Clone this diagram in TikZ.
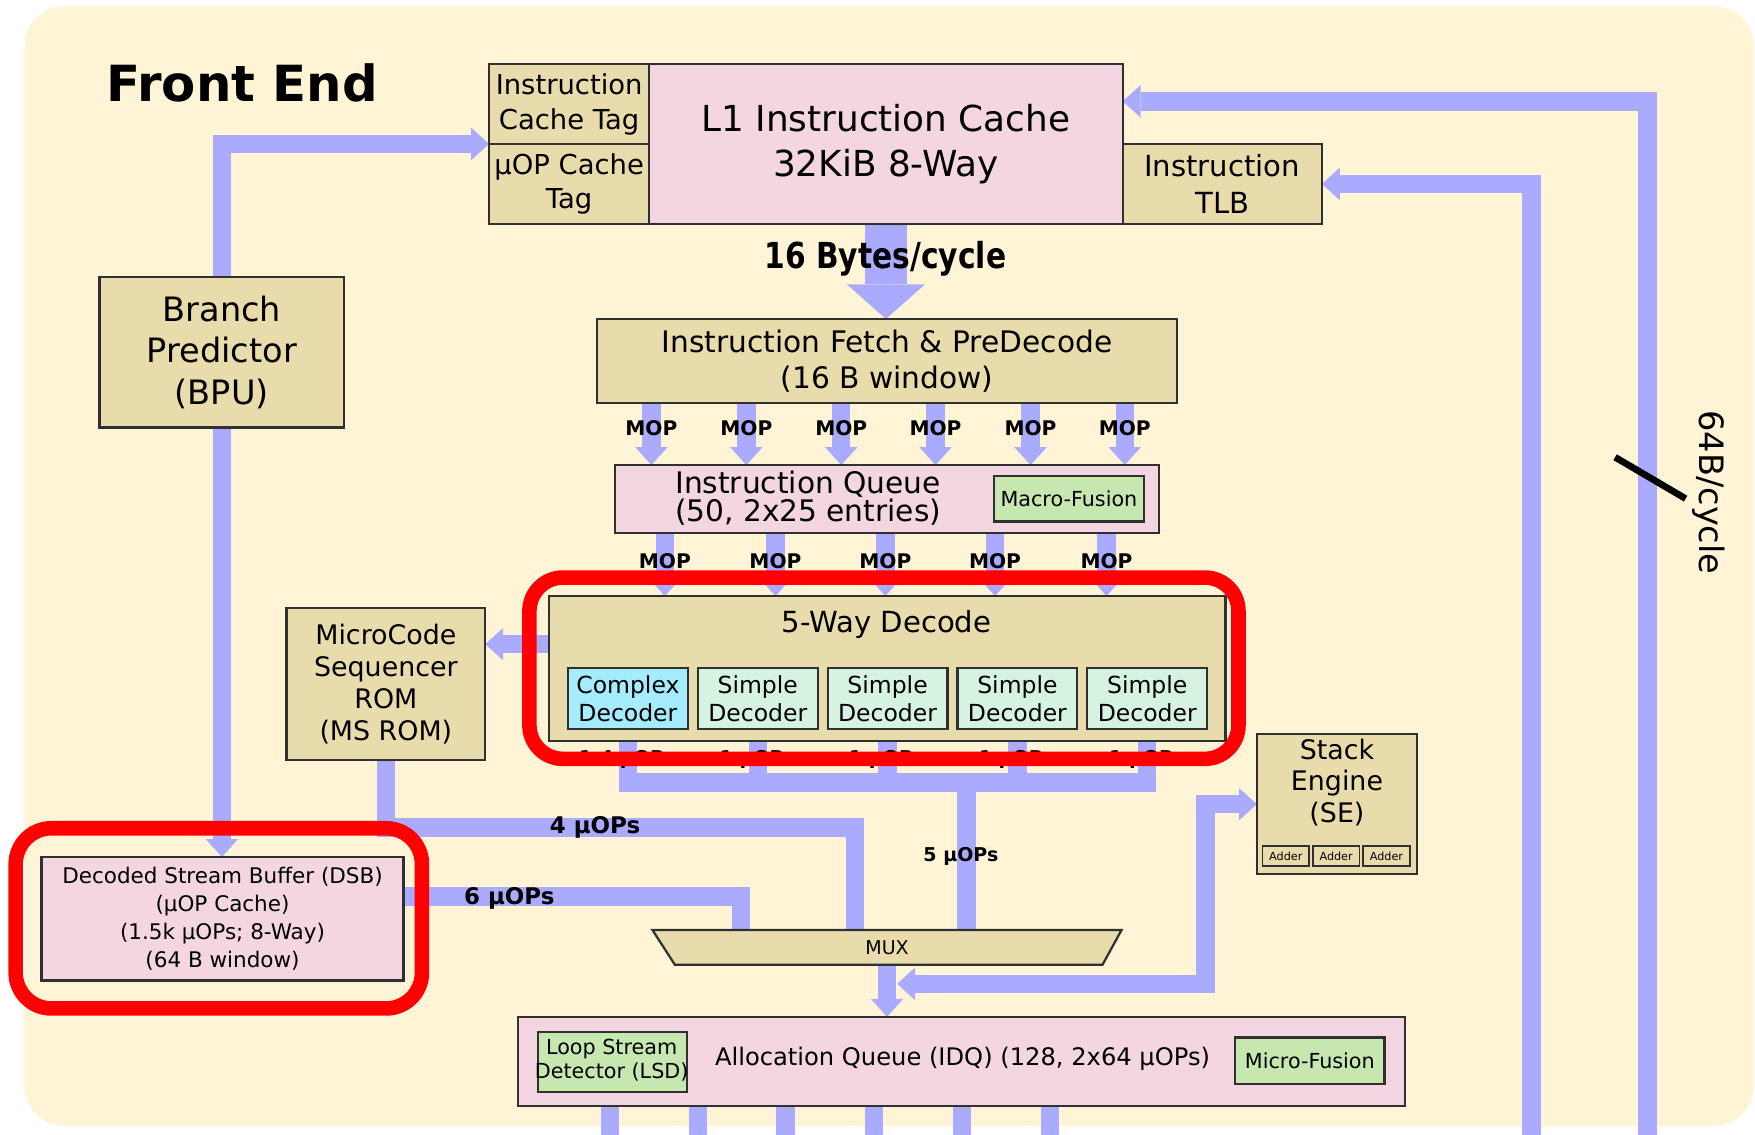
\documentclass[tikz,border=0pt]{standalone}
\usepackage{fontspec}
\setmainfont{DejaVu Sans}
\newfontfamily\cbf{DejaVu Sans}[FakeStretch=0.83]
\usetikzlibrary{arrows.meta,calc}
\definecolor{bgc}{RGB}{255,245,214}
\definecolor{tanbox}{RGB}{232,220,172}
\definecolor{pinkbox}{RGB}{243,214,226}
\definecolor{barc}{RGB}{170,170,255}
\definecolor{greenbox}{RGB}{198,232,176}
\definecolor{cyanbox}{RGB}{166,236,255}
\definecolor{mintbox}{RGB}{214,243,226}
\definecolor{edgec}{RGB}{48,48,48}
\definecolor{hl}{RGB}{255,0,0}
\newcommand\fsz[2]{\fontsize{#1}{#2}\selectfont}
\newcommand\mybox[7]{\node[#6, minimum width={(#4)-(#2)}, minimum height={(#5)-(#3)}] (#1) at ({((#2)+(#4))/2},{((#3)+(#5))/2}) {#7};}
\pgfdeclarelayer{bg}
\pgfdeclarelayer{conn}
\pgfdeclarelayer{under}
\pgfsetlayers{bg,conn,under,main}
\tikzset{
  box/.style={draw=edgec, line width=2pt, inner sep=0pt, outer sep=0pt, align=center, text=black},
  bar/.style={draw=barc, line width=16.5pt},
  arr/.style={bar, -{Triangle[width=29pt,length=16pt,line width=0pt]}},
  dblarr/.style={bar, {Triangle[width=29pt,length=16pt,line width=0pt]}-{Triangle[width=29pt,length=16pt,line width=0pt]}},
  bigarr/.style={draw=barc, line width=38pt, -{Triangle[width=70pt,length=31pt,line width=0pt]}},
  lbl/.style={inner sep=0pt, font=\fsz{18}{20}\bfseries},
  txt/.style={inner sep=0pt, align=center},
}
\begin{document}
\begin{tikzpicture}[x=1pt,y=-1pt]
\useasboundingbox (0,0) rectangle (1568,1014);
\begin{pgfonlayer}{bg}
\fill[white] (0,0) rectangle (1568,1014);
\fill[bgc, rounded corners=36pt] (22,5.5) rectangle (1567,1006);
\end{pgfonlayer}

% title
\node[anchor=base west, inner sep=0pt, font=\fsz{44.5}{50}\bfseries] (title) at (95,91) {Front End};

% top block
\mybox{itag}{437}{57.5}{580}{128.6}{box,fill=tanbox,font=\fsz{24.5}{31}}{Instruction\\Cache Tag}
\mybox{utag}{437}{128.6}{580}{200}{box,fill=tanbox,font=\fsz{24.5}{31}}{µOP Cache\\Tag}
\mybox{l1}{580}{57.5}{1003}{200}{box,fill=pinkbox,font=\fsz{32}{41}}{L1 Instruction Cache\\32KiB 8-Way}
\mybox{tlb}{1003}{128.6}{1181}{200}{box,fill=tanbox,font=\fsz{26}{33}}{Instruction\\TLB}
\mybox{bpu}{89}{247.5}{307.5}{382}{box,fill=tanbox,font=\fsz{30}{37}}{Branch\\Predictor\\(BPU)}
\mybox{fetch}{533.5}{285}{1051.5}{360}{box,fill=tanbox,font=\fsz{26.5}{32}}{Instruction Fetch \& PreDecode\\(16 B window)}
\mybox{iq}{549.5}{415.5}{1035.5}{476}{box,fill=pinkbox}{}
\node[txt, font=\fsz{26.5}{25}] (iqt) at (722,445) {Instruction Queue\\(50, 2x25 entries)};
\mybox{mf}{888}{425}{1022}{466}{box,fill=greenbox,font=\fsz{18.5}{20}}{Macro-Fusion}

% decode
\mybox{dec}{490.5}{532.5}{1095}{662}{box,fill=tanbox}{}
\node[txt, font=\fsz{26}{30}] (dect) at (792,558) {5-Way Decode};
\mybox{d1}{507.5}{597}{614.5}{651.5}{box,fill=cyanbox,font=\fsz{21}{25}}{Complex\\Decoder}
\mybox{d2}{623.5}{597}{730.5}{651.5}{box,fill=mintbox,font=\fsz{21}{25}}{Simple\\Decoder}
\mybox{d3}{739.5}{597}{846.5}{651.5}{box,fill=mintbox,font=\fsz{21}{25}}{Simple\\Decoder}
\mybox{d4}{855.5}{597}{962.5}{651.5}{box,fill=mintbox,font=\fsz{21}{25}}{Simple\\Decoder}
\mybox{d5}{971.5}{597}{1078.5}{651.5}{box,fill=mintbox,font=\fsz{21}{25}}{Simple\\Decoder}

\mybox{msrom}{256}{543.5}{433.5}{679}{box,fill=tanbox,font=\fsz{24}{28.5}}{MicroCode\\Sequencer\\ROM\\(MS ROM)}

% stack engine
\mybox{se}{1123}{656}{1266}{781}{box,fill=tanbox}{}
\node[txt, font=\fsz{24}{28}] (set) at (1194.5,699) {Stack\\Engine\\(SE)};
\mybox{ad1}{1128}{756}{1169.5}{774}{box,line width=1.5pt,fill=tanbox,font=\fsz{10}{11}}{Adder}
\mybox{ad2}{1173}{756}{1214.5}{774}{box,line width=1.5pt,fill=tanbox,font=\fsz{10}{11}}{Adder}
\mybox{ad3}{1218}{756}{1259.5}{774}{box,line width=1.5pt,fill=tanbox,font=\fsz{10}{11}}{Adder}

% DSB
\mybox{dsb}{37}{765.7}{360.6}{876}{box,fill=pinkbox,font=\fsz{19.2}{25}}{Decoded Stream Buffer (DSB)\\(µOP Cache)\\(1.5k µOPs; 8-Way)\\(64 B window)}

% MUX
\node[inner sep=0pt, outer sep=0pt, minimum width=419pt, minimum height=31pt, font=\fsz{17}{20}] (mux) at (792.5,846.5) {MUX};
\begin{pgfonlayer}{under}
\draw[draw=edgec, line width=2pt, fill=tanbox] (mux.north west) -- (mux.north east) -- ([xshift=-17pt]mux.south east) -- ([xshift=20pt]mux.south west) -- cycle;
\end{pgfonlayer}

% IDQ
\mybox{idq}{463}{908.5}{1255}{988}{box,fill=pinkbox}{}
\mybox{lsd}{480.5}{922}{613.5}{975.5}{box,fill=greenbox}{}
\node[txt, font=\fsz{18.5}{21}] (lsdt) at (546.5,947) {Loop Stream\\Detector (LSD)};
\mybox{mif}{1103.5}{927}{1237}{968.5}{box,fill=greenbox,font=\fsz{18.5}{20}}{Micro-Fusion}
\node[txt, font=\fsz{21.6}{24}] (idqt) at (860,946) {Allocation Queue (IDQ) (128, 2x64 µOPs)};

% helper coordinates
\coordinate (r1) at (1472,1014);
\coordinate (r2) at (1368.5,1014);
\coordinate (l1in) at (1003,90.5);
\foreach \x [count=\i] in {582,666.8,751.6,835.8,920.7,1004.9} {\coordinate (m\i) at (\x,0);}
\foreach \x [count=\i] in {594,692.8,791,889,988.6} {\coordinate (n\i) at (\x,0);}
\coordinate (decl) at (490.5,575.5);
\coordinate (busc) at (863.5,699);
\coordinate (c4) at (764,739.5);
\coordinate (c6) at (662,801);
\coordinate (moR) at (801.5,879);
\coordinate (sebend) at (1077,879);
\foreach \x [count=\i] in {545,623.6,702,781,859.5,938} {\coordinate (o\i) at (\x,1014);}

\begin{pgfonlayer}{conn}
\draw[arr] (bpu.north) |- (itag.south west);
\draw[arr] (r1) |- (l1in);
\draw[arr] (r2) |- (tlb.east);
\draw[bigarr] (l1.south) -- (fetch.north -| l1.south);
\foreach \i in {1,...,6} {\draw[arr] (fetch.south -| m\i) -- (iq.north -| m\i);}
\foreach \i in {1,...,5} {\draw[arr] (iq.south -| n\i) -- (dec.north -| n\i);}
\draw[arr] (decl) -- (decl -| msrom.east);
\draw[bar] (d1.south |- dec.south) -- (d1.south |- busc) -- (d5.south |- busc) -- (d5.south |- dec.south);
\foreach \i in {2,3,4} {\draw[bar] (d\i.south |- dec.south) -- (d\i.south |- busc);}
\draw[bar] (busc) -- (busc |- mux.north);
\draw[bar] (msrom.south) |- (c4) -- (c4 |- mux.north);
\draw[bar] (dsb.east |- c6) -- (c6) -- (c6 |- mux.north);
\draw[arr] (mux.south) -- (mux.south |- idq.north);
\draw[dblarr] (moR) -- (sebend) |- (se.west);
\draw[arr] (bpu.south) -- (bpu.south |- dsb.north);
\foreach \i in {1,...,6} {\draw[bar] (idq.south -| o\i) -- (o\i);}
\end{pgfonlayer}

% labels
\node[anchor=base, inner sep=0pt, font=\fsz{32}{36}\cbf\bfseries] (bw16) at (791,239.5) {16 Bytes/cycle};
\foreach \x [count=\i] in {582,666.8,751.6,835.8,920.7,1004.9} {\node[lbl, anchor=base] (mopa\i) at (\x,388.7) {MOP};}
\foreach \x [count=\i] in {594,692.8,791,889,988.6} {\node[lbl, anchor=base] (mopb\i) at (\x,508) {MOP};}
\node[lbl, anchor=base west, font=\fsz{17}{20}\bfseries] (u14) at (517,683) {1-4 µOPs};
\foreach \x [count=\i] in {642.8,758.3,874.3,990.8} {\node[lbl, anchor=base west, font=\fsz{17}{20}\bfseries] (u1\i) at (\x,683) {1 µOP};}
\node[lbl, anchor=base, font=\fsz{20.5}{24}\bfseries] (u4) at (531.6,744.5) {4 µOPs};
\node[lbl, anchor=base, font=\fsz{20.5}{24}\bfseries] (u6) at (455,807.7) {6 µOPs};
\node[lbl, anchor=base, font=\fsz{17}{20}\bfseries] (u5) at (858.5,770) {5 µOPs};
\node[rotate=-90, inner sep=0pt, font=\fsz{30}{34}] (bw64) at (1527,440) {64B/cycle};
\draw[line width=6pt] (1443,408.5) -- (1506,445.5);

% highlights
\draw[hl, line width=13pt, rounded corners=30pt] (473,516) rectangle (1106.5,678);
\draw[hl, line width=13pt, rounded corners=32pt] (14,740) rectangle (377,901);
\end{tikzpicture}
\end{document}
